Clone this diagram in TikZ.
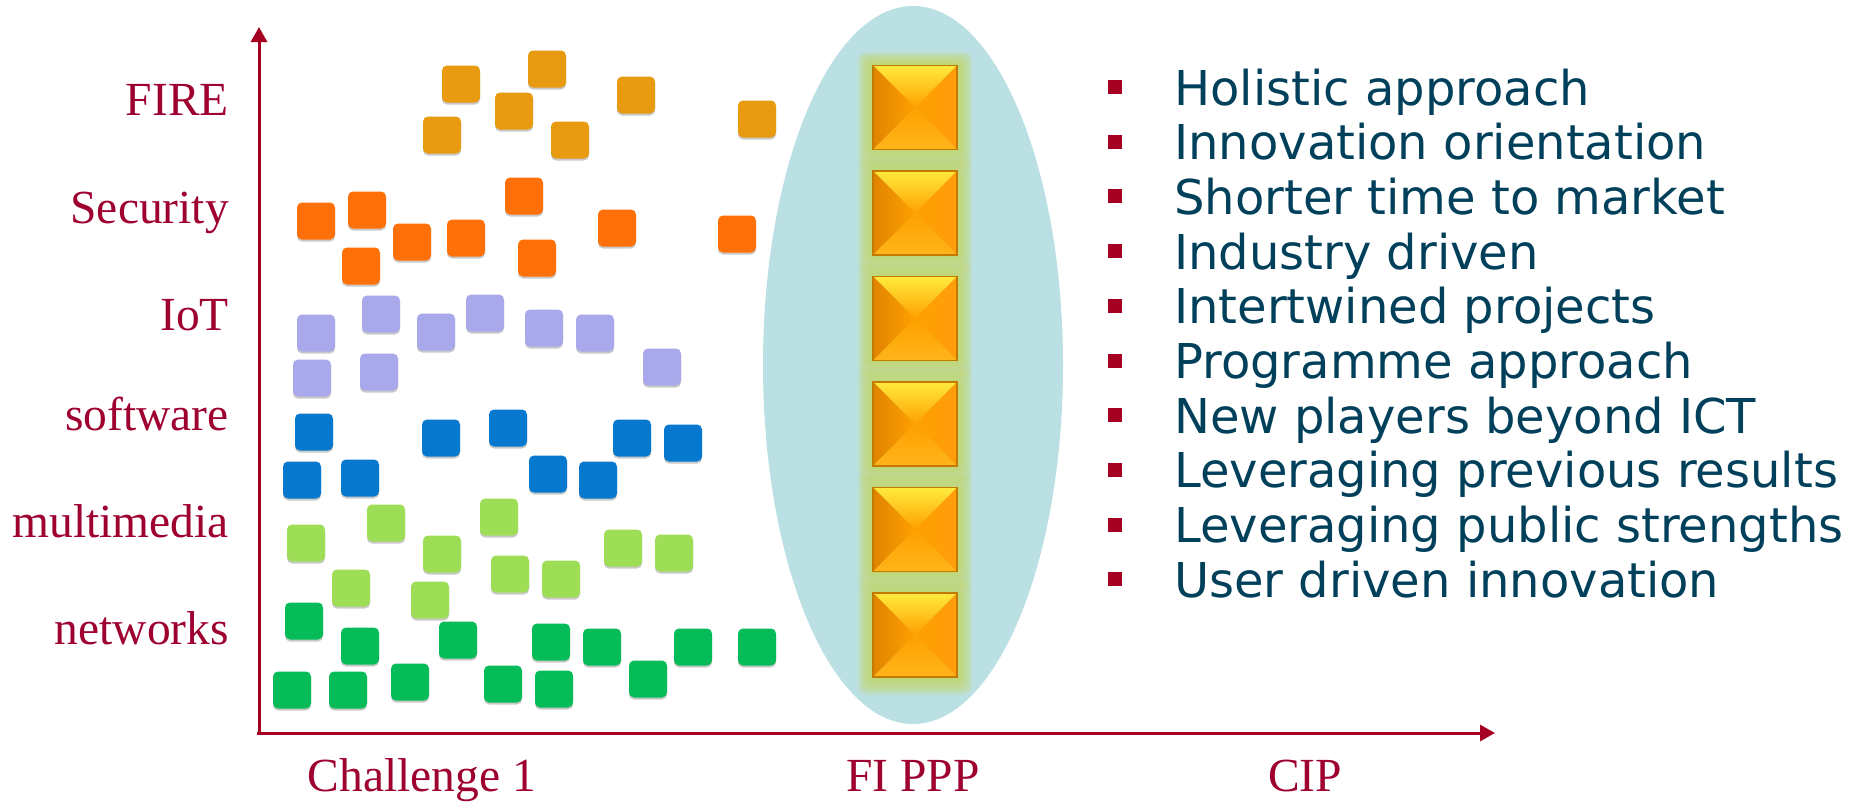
\documentclass[tikz,border=0pt]{standalone}
\usepackage{fontspec}
\setmainfont{Liberation Serif}
\newfontfamily\listfont{DejaVu Sans}
\usetikzlibrary{arrows.meta,shadows,shapes.geometric}
\definecolor{axisred}{HTML}{A50021}
\definecolor{labelred}{HTML}{9E0030}
\definecolor{listblue}{HTML}{00405A}
\definecolor{ellipsecol}{HTML}{BBE0E3}
\definecolor{glowcol}{HTML}{C4D766}
\definecolor{fireC}{HTML}{E89A10}
\definecolor{secC}{HTML}{FF7009}
\definecolor{iotC}{HTML}{A8A8EB}
\definecolor{swC}{HTML}{0678CD}
\definecolor{mmC}{HTML}{9EDD56}
\definecolor{netC}{HTML}{06BC58}
\definecolor{pyrYellow}{HTML}{FFEA3C}
\definecolor{pyrOrange}{HTML}{FFA000}
\definecolor{pyrMid}{HTML}{FFB51A}
\definecolor{pyrDark}{HTML}{E08400}
\definecolor{pyrRight}{HTML}{FF9D0C}
\definecolor{pyrEdge}{HTML}{C47A00}
\begin{document}
\begin{tikzpicture}[x=1pt,y=-1pt,
  tile/.style={rectangle, rounded corners=5pt, minimum width=38pt, minimum height=37pt,
    inner sep=0pt, fill=#1,
    drop shadow={shadow xshift=0pt, shadow yshift=-2pt, opacity=0.35, fill=black!60}},
  axisline/.style={draw=axisred, line width=3pt, -{Triangle[width=16pt,length=15pt]}},
  axislabel/.style={text=labelred, font=\fontsize{47.5}{50}\selectfont, inner sep=0pt},
  listtext/.style={text=listblue, font=\listfont\fontsize{48}{56}\selectfont, inner sep=0pt},
  bulletsq/.style={rectangle, fill=axisred, minimum size=14pt, inner sep=0pt}
]
\useasboundingbox (0,0) rectangle (1853,801);
\fill[white] (0,0) rectangle (1853,801);

% ellipse
\node[ellipse, fill=ellipsecol, minimum width=300pt, minimum height=718pt, inner sep=0pt] (ell) at (913,365) {};

% axes
\coordinate (origin) at (259,735);
\coordinate (ytip) at (259,27);
\coordinate (xtip) at (1495,733);
\coordinate (xstart) at (257,733);
\draw[axisline] (origin) -- (ytip);
\draw[axisline] (xstart) -- (xtip);

% pyramids
\foreach \cy [count=\i] in {107.5,213,318.5,424,529.5,635}{
  \coordinate (fp\i) at (915,\cy);
}
\foreach \i in {1,...,6}{
  \begin{scope}[shift={(fp\i)}]
    \foreach \k in {1,...,9}{
      \fill[glowcol, opacity=0.18, rounded corners=8pt]
        ({-42-\k*1.7},{-42-\k*1.5}) rectangle ({42+\k*1.7},{42+\k*2.0});
    }
    \shade[top color=pyrYellow, middle color=pyrMid, bottom color=pyrOrange]
      (-42,-42) -- (42,-42) -- (0,0) -- cycle;
    \shade[left color=pyrDark, right color=pyrOrange]
      (-42,-42) -- (0,0) -- (-42,42) -- cycle;
    \shade[left color=pyrOrange, right color=pyrRight]
      (42,-42) -- (0,0) -- (42,42) -- cycle;
    \shade[top color=pyrOrange, bottom color=pyrMid]
      (-42,42) -- (0,0) -- (42,42) -- cycle;
    \draw[pyrEdge, line width=1.2pt] (-42,-42) rectangle (42,42);
  \end{scope}
}

% tiles
\foreach \x/\y [count=\i] in {461/84,547/69,514/111,636/95,757/119,442/135,570/140}
  \node[tile=fireC] (fire\i) at (\x,\y) {};
\foreach \x/\y [count=\i] in {316/221,367/210,412/242,466/238,524/196,361/266,537/258,617/228,737/234}
  \node[tile=secC] (sec\i) at (\x,\y) {};
\foreach \x/\y [count=\i] in {316/333,381/314,436/332,485/313,544/328,595/333,312/378,379/372,662/367}
  \node[tile=iotC] (iot\i) at (\x,\y) {};
\foreach \x/\y [count=\i] in {314/432,441/438,508/428,632/438,683/443,302/480,360/478,548/474,598/480}
  \node[tile=swC] (sw\i) at (\x,\y) {};
\foreach \x/\y [count=\i] in {306/543,386/523,499/517,442/554,623/548,674/553,351/588,510/574,561/579,430/600}
  \node[tile=mmC] (mm\i) at (\x,\y) {};
\foreach \x/\y [count=\i] in {304/621,360/646,458/640,551/642,602/647,693/647,757/647,292/690,348/690,410/682,503/684,554/689,648/679}
  \node[tile=netC] (net\i) at (\x,\y) {};

% y labels
\foreach \t/\y [count=\i] in {FIRE/115,Security/223,IoT/330,software/430,multimedia/537,networks/644}
  \node[axislabel, anchor=base east] (ylab\i) at (229,\y) {\t};

% x labels
\node[axislabel, anchor=base] (xlab1) at (422,791) {Challenge 1};
\node[axislabel, anchor=base] (xlab2) at (913,791) {FI PPP};
\node[axislabel, anchor=base] (xlab3) at (1305,791) {CIP};

% list
\foreach \t [count=\i] in {Holistic approach,Innovation orientation,Shorter time to market,Industry driven,Intertwined projects,Programme approach,New players beyond ICT,Leveraging previous results,Leveraging public strengths,User driven innovation}{
  \pgfmathsetmacro{\yy}{105+(\i-1)*54.7}
  \node[bulletsq] (bul\i) at (1115,{\yy-18}) {};
  \node[listtext, anchor=base west] (item\i) at (1174,\yy) {\t};
}
\end{tikzpicture}
\end{document}
